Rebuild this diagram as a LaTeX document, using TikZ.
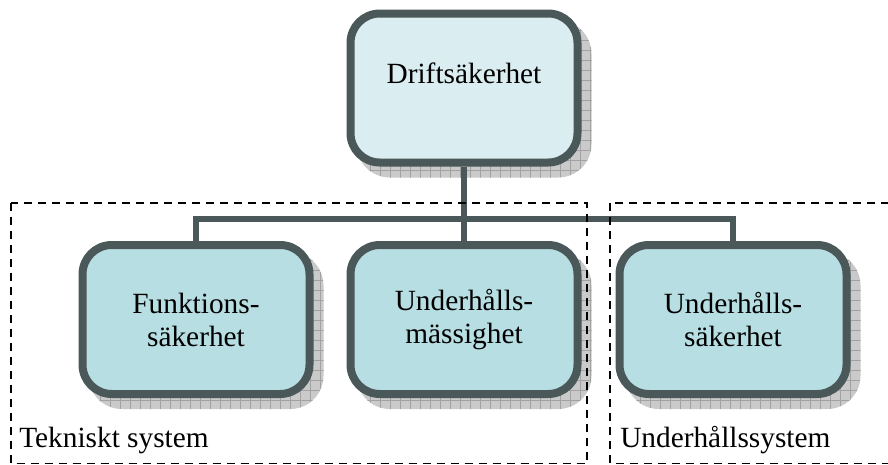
\documentclass[tikz,border=0pt]{standalone}
\usepackage{fontspec}
\setmainfont{Liberation Serif}

\definecolor{boxline}{HTML}{4A5859}
\definecolor{topfill}{HTML}{DAEDF1}
\definecolor{subfill}{HTML}{B7DEE3}
\definecolor{shadefill}{HTML}{CACACA}
\definecolor{shadegrid}{HTML}{A2A2A2}

\tikzset{
  card/.style={draw=boxline, line width=6pt, rounded corners=22pt,
    minimum width=170.25pt, minimum height=111.75pt, inner sep=0pt,
    align=center, font=\fontsize{22pt}{24.75pt}\selectfont},
  topcard/.style={card, fill=topfill, text height=14.8pt, text depth=22.3pt},
  subcard/.style={card, fill=subfill},
  link/.style={draw=boxline, line width=4.5pt},
  region/.style={draw=black, line width=1.1pt, dash pattern=on 6pt off 4.5pt},
  regionlabel/.style={anchor=base west, inner sep=0pt,
    font=\fontsize{22pt}{24.75pt}\selectfont},
}

\begin{document}
\begin{tikzpicture}[x=0.75pt, y=-0.75pt]
\useasboundingbox (0,0) rectangle (888,464);

% hatched drop shadows behind the cards
\foreach \cx/\cy in {464/88, 196/319.5, 464/319.5, 733/319.5} {
  \begin{scope}
    \clip[rounded corners=25pt]
      (\cx-107.5, \cy-67.5) rectangle (\cx+127.5, \cy+89.5);
    \fill[shadefill] (\cx-110, \cy-70) rectangle (\cx+130, \cy+92);
    \draw[shadegrid, line width=0.45pt, step=7.5pt]
      (\cx-110, \cy-70) grid (\cx+130, \cy+92);
  \end{scope}
}

% cards
\node[topcard] (drift) at (464,88) {Driftsäkerhet};
\node[subcard] (funk)  at (196,319.5) {Funktions-\\säkerhet};
\node[subcard] (mass)  at (464,319.5) {Underhålls-\\mässighet};
\node[subcard] (usak)  at (733,319.5) {Underhålls-\\säkerhet};

% tree connectors
\coordinate (bus) at (464,219);
\draw[link] (drift.south) -- (mass.north);
\draw[link] (funk.north) |- (bus) -| (usak.north);

% system boundaries
\draw[region] (11,203) rectangle (587,463.5);
\draw[region] (610,203) rectangle (895,463.5);
\node[regionlabel] (tek) at (19,447) {Tekniskt system};
\node[regionlabel] (uhs) at (620,447) {Underhållssystem};
\end{tikzpicture}
\end{document}
